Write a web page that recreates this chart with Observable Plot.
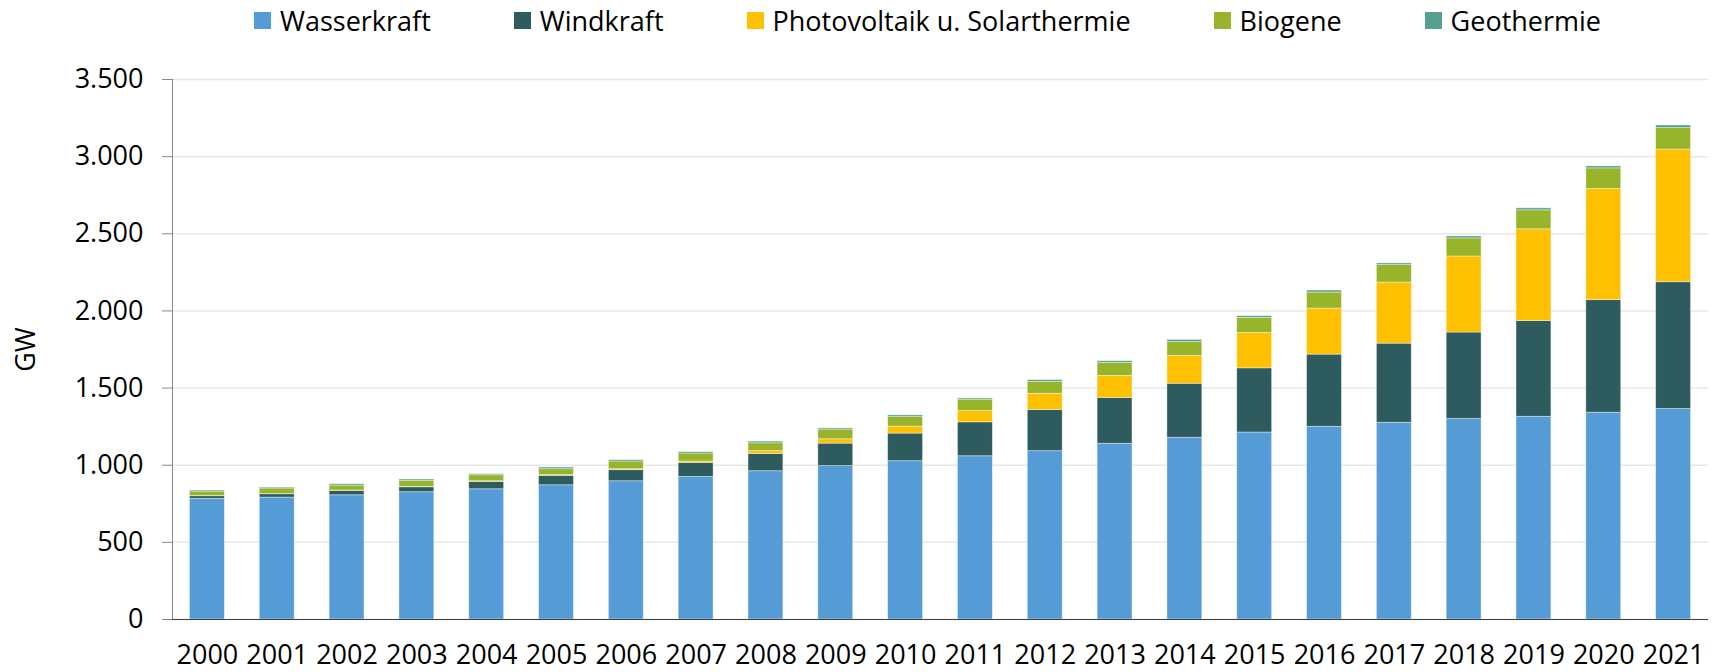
<!DOCTYPE html>
<html>
<head>
<meta charset="utf-8">
<script src="https://cdn.jsdelivr.net/npm/d3@7"></script>
<script src="https://cdn.jsdelivr.net/npm/@observablehq/plot@0.6"></script>
<style>
  html, body { margin: 0; padding: 0; background: #fff; }
  body { width: 1715px; height: 672px; overflow: hidden; font-family: "Open Sans", sans-serif; }
  #legend { height: 41px; display: flex; justify-content: center; align-items: center; gap: 83px; padding-left: 140px; box-sizing: border-box; width: 1715px; font-size: 27px; color: #000; }
  .item { display: flex; align-items: center; white-space: nowrap; }
  .sw { width: 17px; height: 17px; margin-right: 9px; }
  #chart svg { display: block; }
</style>
</head>
<body>
<div id="legend"></div>
<div id="chart"></div>
<script>
const years = ["2000","2001","2002","2003","2004","2005","2006","2007","2008","2009","2010","2011","2012","2013","2014","2015","2016","2017","2018","2019","2020","2021"];
const seriesNames = ["Wasserkraft", "Windkraft", "Photovoltaik u. Solarthermie", "Biogene", "Geothermie"];
const seriesColors = ["#559bd6", "#2e5b5e", "#ffc000", "#97b42a", "#56a090"];

const wasserkraft = [782, 790, 805, 825, 844, 870, 896, 924, 961, 994, 1026, 1058, 1091, 1139, 1178, 1212, 1249, 1275, 1299, 1314, 1340, 1364];
const windkraft   = [17, 22, 29, 32, 48, 61, 72, 91, 112, 146, 179, 220, 267, 297, 350, 416, 468, 513, 561, 621, 730, 822];
const photovoltaik = [1, 1, 2, 3, 4, 5, 6, 9, 18, 28, 45, 73, 105, 143, 180, 229, 298, 396, 493, 594, 720, 860];
const biogene     = [29, 36, 32, 38, 39, 38, 50, 52, 51, 63, 62, 74, 78, 84, 91, 98, 104, 113, 117, 123, 134, 139];
const geothermie  = [7, 6, 9, 9, 7, 11, 9, 9, 11, 8, 11, 8, 11, 11, 13, 11, 13, 11, 13, 13, 13, 17];

const yTicks = [0, 500, 1000, 1500, 2000, 2500, 3000, 3500];

const seriesValues = [wasserkraft, windkraft, photovoltaik, biogene, geothermie];
const data = [];
seriesNames.forEach((name, si) => {
  years.forEach((year, yi) => {
    data.push({year, series: name, value: seriesValues[si][yi]});
  });
});

// Legend
const legend = document.getElementById("legend");
seriesNames.forEach((name, i) => {
  const item = document.createElement("div");
  item.className = "item";
  const sw = document.createElement("div");
  sw.className = "sw";
  sw.style.background = seriesColors[i];
  const label = document.createElement("span");
  label.textContent = name;
  item.appendChild(sw);
  item.appendChild(label);
  legend.appendChild(item);
});

const de = d3.formatLocale({decimal: ",", thousands: ".", grouping: [3], currency: ["", " €"]});
const fmt = de.format(",d");

const plot = Plot.plot({
  width: 1715,
  height: 631,
  marginLeft: 172,
  marginRight: 7,
  marginTop: 38,
  marginBottom: 53,
  style: {fontFamily: "Open Sans", fontSize: "27px", color: "#000", background: "#fff"},
  x: {domain: years, paddingInner: 0.5, paddingOuter: 0.25, round: false, label: null},
  y: {domain: [0, 3500], label: null},
  color: {domain: seriesNames, range: seriesColors},
  marks: [
    Plot.gridY(yTicks, {stroke: "#e8e8e8", strokeOpacity: 1, strokeWidth: 1.5}),
    Plot.barY(data, {x: "year", y: "value", fill: "series", stroke: "#fff", strokeWidth: 0.8, strokeOpacity: 0.5}),
    Plot.frame({anchor: "left", stroke: "#868686"}),
    Plot.ruleY([0], {stroke: "#404040", strokeWidth: 1.2}),
    Plot.axisY(yTicks, {tickSize: 10, tickPadding: 19, tickFormat: fmt, stroke: "#868686", fill: "#000", label: "GW", labelAnchor: "center", labelOffset: 157, labelArrow: "none"}),
    Plot.axisX({tickSize: 0, tickPadding: 25, fill: "#000", label: null})
  ]
});
document.getElementById("chart").appendChild(plot);
</script>
</body>
</html>
